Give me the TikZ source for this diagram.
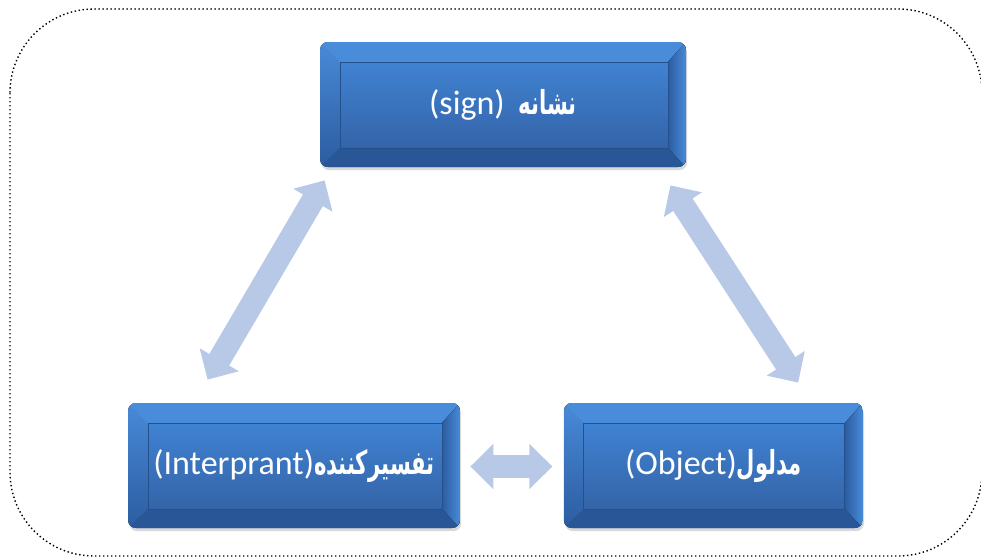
\documentclass[tikz,border=0pt]{standalone}
\usepackage{fontspec}
\setmainfont{Carlito}
\newfontfamily\persianfont[Script=Arabic,FakeStretch=0.64]{DejaVu Sans}
\TeXXeTstate=1
\usetikzlibrary{positioning,calc,arrows.meta,shadows}
\definecolor{boxtop}{RGB}{72,138,216}
\definecolor{boxbot}{RGB}{44,92,160}
\definecolor{facetop}{RGB}{64,130,210}
\definecolor{facebot}{RGB}{52,100,168}
\definecolor{bandlight}{RGB}{72,140,218}
\definecolor{banddark}{RGB}{40,86,150}
\definecolor{hilite}{RGB}{175,214,247}
\definecolor{faceline}{RGB}{36,80,140}
\definecolor{arrowcol}{RGB}{183,201,230}
\newcommand{\fatxt}[1]{{\persianfont\bfseries\fontsize{16.5}{20}\selectfont\beginR #1\endR}}

\begin{document}
\begin{tikzpicture}[x=0.5pt,y=-0.5pt,
  bevelbox/.style={rounded corners=4pt,inner sep=0pt,minimum height=62.5pt,
    text=white,font=\fontsize{17}{20}\selectfont,
    drop shadow={opacity=0.3,shadow xshift=0.6pt,shadow yshift=-1.6pt},
    path picture={
      \path (path picture bounding box.north west) coordinate (pnw)
            (path picture bounding box.north east) coordinate (pne)
            (path picture bounding box.south west) coordinate (psw)
            (path picture bounding box.south east) coordinate (pse);
      \path ($(pnw)+(20,20)$) coordinate (qnw) ($(pne)+(-18,20)$) coordinate (qne)
            ($(psw)+(20,-19)$) coordinate (qsw) ($(pse)+(-18,-19)$) coordinate (qse);
      \fill[sharp corners,top color=boxtop,bottom color=boxbot] (pnw) rectangle (pse);
      \fill[sharp corners,bandlight] (pnw) -- (pne) -- (qne) -- (qnw) -- cycle;
      \fill[sharp corners,banddark] (psw) -- (pse) -- (qse) -- (qsw) -- cycle;
      \fill[sharp corners,left color=boxbot,middle color=hilite,right color=boxtop]
        (qne) -- (pne) -- (pse) -- (qse) -- cycle;
      \fill[sharp corners,top color=facetop,bottom color=facebot] (qnw) rectangle (qse);
      \draw[sharp corners,faceline,line width=0.4pt] (qnw) rectangle (qse);
    }},
  dblarrow/.style={draw=arrowcol,line width=11.5pt,
    {Triangle[length=11.5pt,width=22pt]}-{Triangle[length=11.5pt,width=22pt]}}]
\useasboundingbox (0,0) rectangle (981,557);
\draw[line width=0.7pt,dash pattern=on 0.7pt off 1.3pt,rounded corners=42pt] (10,9) rectangle (982,556);

\node[bevelbox,minimum width=183pt] (sign) at (503,104.5) {(sign)\hspace{7pt}\fatxt{نشانه}};
\node[bevelbox,minimum width=166pt] (interp) at (294,465.5) {(Interprant)\fatxt{تفسیرکننده}};
\node[bevelbox,minimum width=149.5pt,right=51.5pt of interp] (object) {(Object)\fatxt{مدلول}};

\draw[dblarrow] ($(sign.south west)+(5,13)$) -- ($(interp.north west)+(80,-23)$);
\draw[dblarrow] ($(sign.south east)+(-16,18)$) -- ($(object.north east)+(-65,-20)$);
\draw[dblarrow] ($(interp.east)+(10,1)$) -- ($(object.west)+(-11,1)$);
\end{tikzpicture}
\end{document}
